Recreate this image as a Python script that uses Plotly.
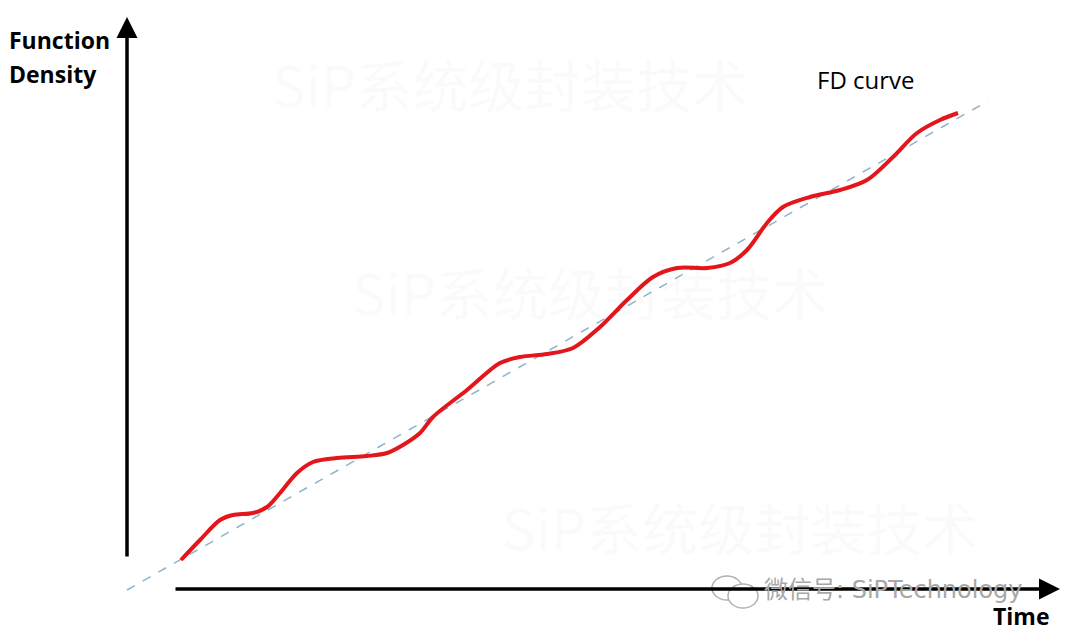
import plotly.graph_objects as go

# FD curve (time vs function density, arbitrary units)
time = [5.4, 7.3, 9.3, 10.6, 12.6, 14.0, 15.3, 17.0, 18.6, 21.0, 24.0, 26.0,
        27.6, 29.3, 30.6, 34.0, 37.3, 39.3, 42.0, 44.6, 47.3, 50.0, 52.6, 55.0,
        58.0, 60.3, 62.0, 64.0, 65.6, 68.3, 71.3, 74.0, 76.6, 79.0, 81.3, 83.1]
density = [2.9, 4.9, 6.9, 7.4, 7.6, 8.2, 9.6, 11.6, 12.7, 13.1, 13.3, 13.6,
           14.4, 15.6, 17.2, 19.9, 22.6, 23.2, 23.5, 24.1, 26.2, 28.9, 31.2, 32.1,
           32.1, 32.6, 33.9, 36.6, 38.2, 39.2, 39.9, 40.9, 43.2, 45.6, 46.9, 47.6]

# linear trend (dashed)
trend_time = [0.0, 86.1]
trend_density = [-0.1, 48.8]

# hand-drawn axes extents
y_axis_time = [0.0, 0.0]
y_axis_density = [3.1, 57.2]
x_axis_time = [4.7, 93.3]
x_axis_density = [0.0, 0.0]

W, H = 1080, 641
OFF = 8  # page body margin pushes the figure 8px right/down


def px(x):
    return (x - OFF) / W


def py(y):
    return 1 - (y - OFF) / H


fig = go.Figure()

fig.add_trace(go.Scatter(
    x=trend_time, y=trend_density, mode='lines',
    line=dict(color='#8fb3cc', width=1.5, dash='dash'),
    hoverinfo='skip'
))
fig.add_trace(go.Scatter(
    x=time, y=density, mode='lines',
    line=dict(color='#e3161b', width=4, shape='spline', smoothing=0.9),
    hoverinfo='skip'
))

# axis arrows
for xs, ys in [(y_axis_time, y_axis_density), (x_axis_time, x_axis_density)]:
    fig.add_annotation(x=xs[1], y=ys[1], ax=xs[0], ay=ys[0],
                       xref='x', yref='y', axref='x', ayref='y', showarrow=True, text='',
                       arrowhead=2, arrowsize=1.2, arrowwidth=3.5, arrowcolor='black')

# faint background watermarks
for wx, wy in [(270, 83), (350, 290), (500, 525)]:
    fig.add_annotation(x=px(wx), y=py(wy), xref='paper', yref='paper', xanchor='left', yanchor='middle',
                       text='SiP系统级封装技术', showarrow=False,
                       font=dict(family='Noto Sans CJK SC', size=56, color='rgba(0,0,0,0.02)'))

# labels
bold = dict(family='Open Sans', size=23, color='black', weight='bold')
fig.add_annotation(x=px(8), y=py(23), xref='paper', yref='paper', xanchor='left', borderpad=0,
                   yanchor='top', text='<b>Function</b>', showarrow=False, font=bold)
fig.add_annotation(x=px(8), y=py(57), xref='paper', yref='paper', xanchor='left', borderpad=0,
                   yanchor='top', text='<b>Density</b>', showarrow=False, font=bold)
fig.add_annotation(x=px(1052), y=py(598), xref='paper', yref='paper', xanchor='right',
                   yanchor='top', text='<b>Time</b>', showarrow=False, font=bold)
fig.add_annotation(x=px(866), y=py(80), xref='paper', yref='paper', xanchor='center',
                   yanchor='middle', text='FD curve', showarrow=False,
                   font=dict(family='Open Sans', size=24, color='black'))

# WeChat watermark
fig.add_annotation(x=px(762), y=py(590), xref='paper', yref='paper', xanchor='left',
                   yanchor='middle', text='微信号: SiPTechnology', showarrow=False,
                   font=dict(family='DejaVu Sans, Noto Sans CJK SC', size=24, color='#a8a8a8'))
fig.add_shape(type='circle', xref='paper', yref='paper',
              x0=px(712), x1=px(742), y0=py(600), y1=py(576),
              line=dict(color='#b0b0b0', width=1.5))
fig.add_shape(type='circle', xref='paper', yref='paper',
              x0=px(728), x1=px(758), y0=py(608), y1=py(584),
              line=dict(color='#b0b0b0', width=1.5), fillcolor='white')

fig.update_xaxes(range=[(OFF - 127) / 10, (OFF + W - 127) / 10], visible=False, fixedrange=True)
fig.update_yaxes(range=[(589 - OFF - H) / 10, (589 - OFF) / 10], visible=False, fixedrange=True)
fig.update_layout(
    width=W, height=H,
    margin=dict(l=0, r=0, t=0, b=0),
    paper_bgcolor='white', plot_bgcolor='white',
    showlegend=False
)

fig.write_html("out.html")
